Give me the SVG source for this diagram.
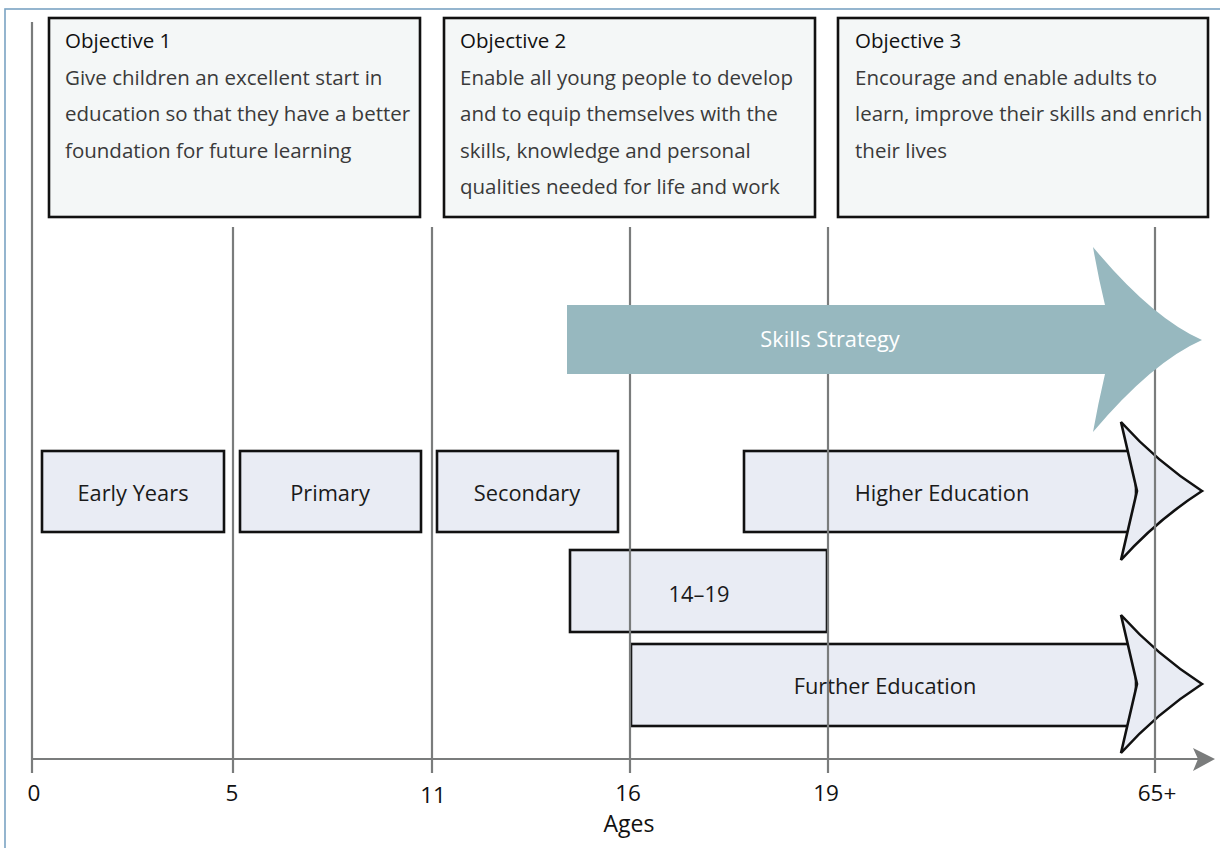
<svg xmlns="http://www.w3.org/2000/svg" width="1220" height="848" viewBox="0 0 1220 848">
<style>
  .frame{fill:none;stroke:#7ba3c3;stroke-width:1.6}
  .obj{fill:#f4f7f7;stroke:#111;stroke-width:2.6}
  .stage{fill:#e9ecf4;stroke:#111;stroke-width:2.6}
  .grid{stroke:#7a7c7c;stroke-width:2.2;fill:none}
  .t{font-family:"Open Sans","Noto Sans","Liberation Sans",sans-serif;font-size:20.5px}
  .head{fill:#111}
  .body{fill:#3a3a3a}
  .lbl{fill:#1a1a1a;text-anchor:middle;font-size:21.8px}
  .tick{font-family:"Open Sans","Noto Sans","Liberation Sans",sans-serif;font-size:22.5px;fill:#111;text-anchor:middle}
</style>
<rect x="0" y="0" width="1220" height="848" fill="#ffffff"/>
<rect class="frame" x="5" y="9" width="1300" height="900"/>

<g id="objective1">
  <rect class="obj" x="49" y="18" width="371" height="199"/>
  <text class="t head" x="65" y="48">Objective 1</text>
  <text class="t body" x="65" y="85">Give children an excellent start in</text>
  <text class="t body" x="65" y="121">education so that they have a better</text>
  <text class="t body" x="65" y="158">foundation for future learning</text>
</g>
<g id="objective2">
  <rect class="obj" x="444" y="18" width="371" height="199"/>
  <text class="t head" x="460" y="48">Objective 2</text>
  <text class="t body" x="460" y="85">Enable all young people to develop</text>
  <text class="t body" x="460" y="121">and to equip themselves with the</text>
  <text class="t body" x="460" y="158">skills, knowledge and personal</text>
  <text class="t body" x="460" y="194">qualities needed for life and work</text>
</g>
<g id="objective3">
  <rect class="obj" x="838" y="18" width="370" height="199"/>
  <text class="t head" x="855" y="48">Objective 3</text>
  <text class="t body" x="855" y="85">Encourage and enable adults to</text>
  <text class="t body" x="855" y="121">learn, improve their skills and enrich</text>
  <text class="t body" x="855" y="158">their lives</text>
</g>

<g id="early-years">
  <rect class="stage" x="42" y="451" width="182" height="81"/>
  <text class="t lbl" x="133" y="501">Early Years</text>
</g>
<g id="primary">
  <rect class="stage" x="240" y="451" width="181" height="81"/>
  <text class="t lbl" x="330" y="501">Primary</text>
</g>
<g id="secondary">
  <rect class="stage" x="437" y="451" width="181" height="81"/>
  <text class="t lbl" x="527" y="501">Secondary</text>
</g>
<g id="higher-education">
  <rect class="stage" x="744" y="451" width="392" height="81"/>
  <path class="stage" d="M1121,422 Q1157,462 1202,491 Q1157,520 1121,560 L1137,491 Z"/>
  <text class="t lbl" x="942" y="501">Higher Education</text>
</g>
<g id="fourteen-nineteen">
  <rect class="stage" x="570" y="550" width="257" height="82"/>
  <text class="t lbl" x="699" y="602">14–19</text>
</g>
<g id="further-education">
  <rect class="stage" x="631" y="644" width="505" height="82"/>
  <path class="stage" d="M1121,615 Q1157,655 1202,684 Q1157,713 1121,753 L1137,684 Z"/>
  <text class="t lbl" x="885" y="694">Further Education</text>
</g>

<g id="connectors">
  <line class="grid" x1="32" y1="22" x2="32" y2="773"/>
  <line class="grid" x1="233" y1="227" x2="233" y2="773"/>
  <line class="grid" x1="432" y1="227" x2="432" y2="773"/>
  <line class="grid" x1="630" y1="227" x2="630" y2="773"/>
  <line class="grid" x1="828" y1="227" x2="828" y2="773"/>
  <line class="grid" x1="1155" y1="227" x2="1155" y2="773"/>
  <line class="grid" x1="32" y1="759" x2="1198" y2="759"/>
  <path d="M1193,748 L1215,759 L1193,771 L1198,759 Z" fill="#7a7c7c"/>
</g>

<g id="skills-strategy">
  <path d="M567,305 H1105 Q1098,276 1093,247 Q1152,318 1202,340 Q1152,362 1093,432 Q1098,404 1105,374 H567 Z" fill="#97b8bf"/>
  <text class="t" x="830" y="347" fill="#ffffff" text-anchor="middle" style="font-size:21.8px">Skills Strategy</text>
</g>

<g id="axis-labels">
  <text class="tick" x="34" y="801">0</text>
  <text class="tick" x="232" y="801">5</text>
  <text class="tick" x="433" y="803">11</text>
  <text class="tick" x="628" y="801">16</text>
  <text class="tick" x="826" y="801">19</text>
  <text class="tick" x="1157" y="801">65+</text>
  <text class="tick" x="629" y="832" style="font-size:23px">Ages</text>
</g>
</svg>
